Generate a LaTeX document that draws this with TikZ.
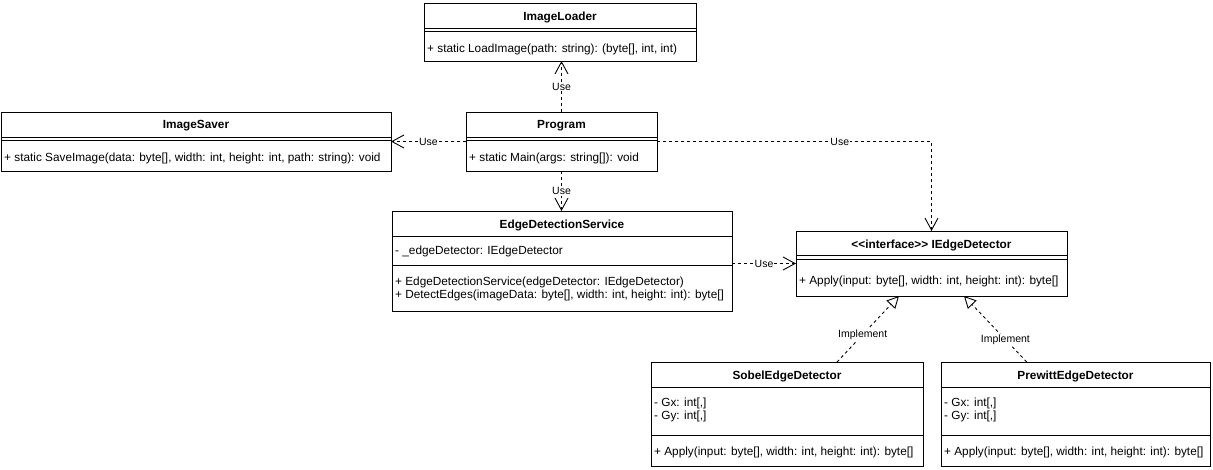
\documentclass[tikz,border=0pt]{standalone}
\usepackage{fontspec}
\setmainfont{Liberation Sans}
\usetikzlibrary{arrows.meta}

\newcommand\memfont{\fontsize{11.8}{13.5}\selectfont}
\newcommand\lblfont{\fontsize{10.5}{12}\selectfont}

\tikzset{
  cls/.style={draw, line width=0.9pt, inner sep=0pt, outer sep=0pt},
  sepline/.style={line width=0.9pt},
  ttl/.style={font=\memfont\bfseries, anchor=base, inner sep=0pt},
  mem/.style={font=\memfont, anchor=base west, inner sep=0pt},
  lbl/.style={font=\lblfont, fill=white, inner sep=1pt},
  dep/.style={line width=0.9pt, dash pattern=on 3pt off 3pt,
    -{Straight Barb[length=12pt,width=13pt]}},
  impl/.style={line width=0.9pt, dash pattern=on 3pt off 3pt,
    -{Triangle[open,length=12pt,width=12pt]}},
}

% class frame: name, left, top, right, bottom
\newcommand\classbox[5]{%
  \node[cls, minimum width={#4-#2}, minimum height={#5-#3}]
    (#1) at ({(#2+#4)/2},{(#3+#5)/2}) {};}
% horizontal compartment divider inside a class frame
\newcommand\divider[2]{\draw[sepline] (#1.west |- 0,#2) -- (#1.east |- 0,#2);}

\begin{document}
\begin{tikzpicture}[x=1pt,y=-1pt]
\useasboundingbox (0,0) rectangle (1213,470);

% ImageLoader
\classbox{loader}{424}{3}{696}{61}
\node[ttl] (loaderT) at (560,20.3) {ImageLoader};
\divider{loader}{28.3}
\divider{loader}{31.7}
\node[mem] (loaderM) at (427,52.6) {+ static LoadImage(path: string): (byte[], int, int)};

% ImageSaver
\classbox{saver}{1}{112}{391}{171}
\node[ttl] (saverT) at (196,129) {ImageSaver};
\divider{saver}{137.3}
\divider{saver}{140.7}
\node[mem] (saverM) at (4,161.5) {+ static SaveImage(data: byte[], width: int, height: int, path: string): void};

% Program
\classbox{prog}{466}{112}{657}{171}
\node[ttl] (progT) at (561.5,129) {Program};
\divider{prog}{137.3}
\divider{prog}{140.7}
\node[mem] (progM) at (469,161.5) {+ static Main(args: string[]): void};

% EdgeDetectionService
\classbox{eds}{392}{211}{732}{311}
\node[ttl] (edsT) at (562,228.6) {EdgeDetectionService};
\divider{eds}{236.7}
\node[mem] (edsA) at (395,254.3) {- \_edgeDetector: IEdgeDetector};
\divider{eds}{265.7}
\node[mem] (edsM1) at (395,286) {+ EdgeDetectionService(edgeDetector: IEdgeDetector)};
\node[mem] (edsM2) at (395,298.6) {+ DetectEdges(imageData: byte[], width: int, height: int): byte[]};

% IEdgeDetector interface
\classbox{iface}{796}{231}{1067}{296}
\node[ttl] (ifaceT) at (931.5,248.3) {<\kern0pt<interface>\kern0pt> IEdgeDetector};
\divider{iface}{255.7}
\divider{iface}{259.5}
\node[mem] (ifaceM) at (799,284.3) {+ Apply(input: byte[], width: int, height: int): byte[]};

% SobelEdgeDetector
\classbox{sobel}{651}{362}{923}{466}
\node[ttl] (sobelT) at (787,379.3) {SobelEdgeDetector};
\divider{sobel}{387.3}
\node[mem] (sobelA1) at (654,406) {- Gx: int[,]};
\node[mem] (sobelA2) at (654,419.3) {- Gy: int[,]};
\divider{sobel}{435}
\node[mem] (sobelM) at (654,455.3) {+ Apply(input: byte[], width: int, height: int): byte[]};

% PrewittEdgeDetector
\classbox{prew}{941}{362}{1210}{466}
\node[ttl] (prewT) at (1075.5,379.3) {PrewittEdgeDetector};
\divider{prew}{387.3}
\node[mem] (prewA1) at (944,406) {- Gx: int[,]};
\node[mem] (prewA2) at (944,419.3) {- Gy: int[,]};
\divider{prew}{435}
\node[mem] (prewM) at (944,455.3) {+ Apply(input: byte[], width: int, height: int): byte[]};

% dependencies
\draw[dep] (prog.north) -- (prog.north |- loader.south)
  node[lbl, pos=0.5] (u1) {Use};
\draw[dep] (prog.west) -- (prog.west -| saver.east)
  node[lbl, pos=0.5] (u2) {Use};
\draw[dep] (prog.east) -| (iface.north)
  node[lbl, pos=0.333] (u3) {Use};
\draw[dep] (prog.south) -- (prog.south |- eds.north)
  node[lbl, pos=0.5] (u4) {Use};
\draw[dep] (eds.east |- iface.west) -- (iface.west)
  node[lbl, pos=0.5] (u5) {Use};

% realizations
\draw[impl] ([xshift=186pt]sobel.north west) -- ([xshift=103pt]iface.south west)
  node[lbl, pos=0.415] (i1) {Implement};
\draw[impl] ([xshift=85.7pt]prew.north west) -- ([xshift=168pt]iface.south west)
  node[lbl, pos=0.34] (i2) {Implement};
\end{tikzpicture}
\end{document}
